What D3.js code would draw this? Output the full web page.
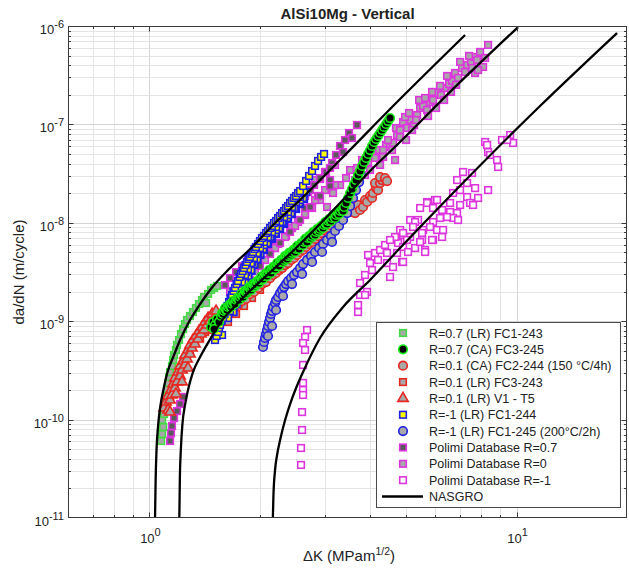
<!DOCTYPE html>
<html>
<head>
<meta charset="utf-8">
<script src="https://cdn.jsdelivr.net/npm/d3@7"></script>
<style>
  body { margin: 0; background: #fff; }
  svg { display: block; }
  text { font-family: Helvetica, Arial, "Liberation Sans", sans-serif; fill: #222; }
</style>
</head>
<body>
<svg id="chart" width="629" height="570"></svg>
<script>
// ---- Text ----
const chartTitle = "AlSi10Mg - Vertical";
const yAxisTitle = "da/dN (m/cycle)";
const xDomain = [0.6, 20];
const yDomain = [1e-11, 1e-6];
const xMajorTicks = [1, 10];
const xTickExponents = ["0", "1"];
const yMajorTicks = [1e-11, 1e-10, 1e-9, 1e-8, 1e-7, 1e-6];
const yTickExponents = ["-11", "-10", "-9", "-8", "-7", "-6"];
const legendLabels = [
  "R=0.7 (LR) FC1-243",
  "R=0.7 (CA) FC3-245",
  "R=0.1 (CA) FC2-244 (150 \u00B0C/4h)",
  "R=0.1 (LR) FC3-243",
  "R=0.1 (LR) V1 - T5",
  "R=-1 (LR) FC1-244",
  "R=-1 (LR) FC1-245 (200\u00B0C/2h)",
  "Polimi Database R=0.7",
  "Polimi Database R=0",
  "Polimi Database R=-1",
  "NASGRO"
];

// ---- Test data: [deltaK (MPa m^0.5), da/dN (m/cycle)] ----
const r07LR_FC1_243 = [
  [1.076,6.06e-11],[1.083,7.14e-11],[1.090,8.41e-11],[1.083,9.9e-11],[1.096,1.139e-10],[1.103,1.41e-10],
  [1.110,1.70e-10],[1.117,2.05e-10],[1.124,2.36e-10],[1.131,2.71e-10],[1.138,3.04e-10],[1.152,3.51e-10],
  [1.160,4.03e-10],[1.167,4.53e-10],[1.181,5.10e-10],[1.189,5.73e-10],[1.204,6.44e-10],[1.219,7.41e-10],
  [1.235,8.33e-10],[1.250,9.37e-10],[1.266,1.029e-9],[1.290,1.129e-9],[1.314,1.24e-9],[1.339,1.362e-9],
  [1.365,1.496e-9],[1.391,1.642e-9],[1.409,1.76e-9],[1.427,1.53e-9],[1.445,1.89e-9],[1.472,2.08e-9],
  [1.500,2.18e-9],[1.528,2.28e-9]
];

const r07CA_FC3_245 = [
  [1.472,8.73e-10],[1.491,9.82e-10],[1.509,9.15e-10],[1.500,8.33e-10],[1.528,1.053e-9],[1.547,9.82e-10],[1.567,1.129e-9],
  [1.577,1.211e-9],[1.587,1.183e-9],[1.597,1.270e-9],[1.607,1.362e-9],[1.617,1.300e-9],[1.627,1.300e-9],
  [1.637,1.394e-9],[1.648,1.461e-9],[1.658,1.427e-9],[1.668,1.394e-9],[1.679,1.496e-9],[1.690,1.604e-9],
  [1.700,1.531e-9],[1.711,1.496e-9],[1.722,1.642e-9],[1.733,1.721e-9],[1.743,1.681e-9],[1.754,1.642e-9],
  [1.765,1.762e-9],[1.777,1.890e-9],[1.788,1.803e-9],[1.799,1.762e-9],[1.810,1.890e-9],[1.821,2.032e-9],
  [1.833,1.985e-9],[1.844,1.934e-9],[1.856,2.032e-9],[1.868,2.224e-9],[1.879,2.180e-9],[1.891,2.08e-9],
  [1.903,2.224e-9],[1.915,2.385e-9],[1.927,2.33e-9],[1.939,2.276e-9],[1.951,2.385e-9],[1.964,2.560e-9],
  [1.976,2.560e-9],[1.988,2.442e-9],[2.001,2.62e-9],[2.014,2.815e-9],[2.026,2.682e-9],[2.039,2.682e-9],
  [2.052,2.882e-9],[2.065,3.02e-9],[2.078,2.95e-9],[2.091,2.882e-9],[2.104,3.091e-9],[2.118,3.31e-9],
  [2.131,3.159e-9],[2.144,3.091e-9],[2.158,3.388e-9],[2.172,3.55e-9],[2.185,3.469e-9],[2.199,3.388e-9],
  [2.213,3.634e-9],[2.227,3.898e-9],[2.241,3.72e-9],[2.255,3.634e-9],[2.269,3.998e-9],[2.283,4.19e-9],
  [2.298,4.093e-9],[2.312,3.998e-9],[2.327,4.19e-9],[2.341,4.601e-9],[2.356,4.495e-9],[2.371,4.289e-9],
  [2.386,4.601e-9],[2.401,4.936e-9],[2.416,4.822e-9],[2.431,4.71e-9],[2.446,4.936e-9],[2.462,5.29e-9],
  [2.477,5.29e-9],[2.493,5.048e-9],[2.509,5.415e-9],[2.524,5.813e-9],[2.540,5.543e-9],[2.556,5.415e-9],
  [2.572,5.95e-9],[2.588,6.235e-9],[2.605,6.091e-9],[2.621,5.95e-9],[2.638,6.384e-9],[2.654,6.849e-9],
  [2.671,6.535e-9],[2.688,6.384e-9],[2.705,7.011e-9],[2.722,7.346e-9],[2.739,7.176e-9],[2.756,7.011e-9],
  [2.774,7.346e-9],[2.791,8.064e-9],[2.809,7.88e-9],[2.826,7.52e-9],[2.844,8.064e-9],[2.862,8.65e-9],
  [2.880,8.45e-9],[2.898,8.255e-9],[2.916,8.65e-9],[2.934,9.28e-9],[2.953,9.28e-9],[2.971,8.855e-9],
  [2.990,9.50e-9],[3.009,1.019e-8],[3.028,9.725e-9],[3.047,9.725e-9],[3.066,1.043e-8],[3.085,1.093e-8],
  [3.105,1.068e-8],[3.124,1.043e-8],[3.144,1.119e-8],[3.164,1.200e-8],[3.184,1.172e-8],[3.204,1.119e-8],
  [3.224,1.200e-8],[3.244,1.287e-8],[3.265,1.287e-8],[3.285,1.228e-8],[3.306,1.318e-8],[3.327,1.414e-8],
  [3.348,1.381e-8],[3.369,1.318e-8],[3.390,1.448e-8],
  [3.433,1.590e-8],[3.476,1.787e-8],[3.520,2.008e-8],[3.564,2.201e-8],
  [3.609,2.477e-8],[3.655,2.72e-8],[3.701,3.06e-8],[3.748,3.36e-8],[3.795,3.78e-8],[3.843,4.151e-8],
  [3.892,4.558e-8],[3.941,5.006e-8],[3.991,5.49e-8],[4.041,6.037e-8],[4.092,6.623e-8],[4.144,7.104e-8],
  [4.196,7.62e-8],[4.249,8.174e-8],[4.303,8.77e-8],[4.357,9.41e-8],[4.412,1.009e-7],[4.468,1.082e-7],
  [4.524,1.161e-7]
];

const r01CA_FC2_244 = [
  [1.743,1.461e-9],[1.788,1.604e-9],[1.833,1.681e-9],[1.879,1.890e-9],[1.927,1.985e-9],[1.976,2.180e-9],
  [2.026,2.385e-9],[2.078,2.50e-9],[2.131,2.746e-9],[2.172,2.95e-9],[2.213,3.091e-9],[2.255,3.31e-9],
  [2.298,3.469e-9],[2.341,3.72e-9],[2.386,3.898e-9],[2.431,4.19e-9],[2.477,4.391e-9],[2.524,4.71e-9],
  [2.572,5.048e-9],[2.621,5.29e-9],[2.671,5.678e-9],[2.722,6.091e-9],[2.774,6.384e-9],[2.826,6.849e-9],
  [2.880,7.346e-9],[2.934,7.88e-9],[2.990,8.45e-9],[3.047,8.855e-9],[3.105,9.50e-9],[3.164,1.068e-8],
  [3.224,1.019e-8],[3.306,1.145e-8],[3.369,1.228e-8],[3.454,1.349e-8],[3.520,1.287e-8],[3.587,1.414e-8],
  [3.632,1.257e-8],[3.701,1.517e-8],[3.748,1.349e-8],[3.819,1.448e-8],[3.867,1.705e-8],[3.916,1.627e-8],
  [3.991,1.872e-8],[4.041,1.787e-8],[4.067,2.008e-8],[4.144,2.253e-8],[4.196,2.15e-8],[4.118,2.536e-8],
  [4.249,2.536e-8],[4.303,2.72e-8],[4.249,2.92e-8],[4.384,2.85e-8],[4.440,2.657e-8]
];

const r01LR_FC3_243 = [
  [1.374,6.749e-10],[1.418,7.768e-10],[1.463,8.14e-10],[1.500,8.94e-10],[1.538,9.82e-10],[1.577,1.029e-9],
  [1.617,1.129e-9],[1.658,1.24e-9],[1.700,1.362e-9],[1.743,1.567e-9],[1.788,1.721e-9],[1.833,1.890e-9],
  [1.879,2.08e-9],[1.927,2.276e-9],[1.976,2.50e-9],[2.026,2.746e-9],[2.078,3.02e-9],[2.131,3.31e-9],
  [1.637,9.82e-10],[1.722,1.183e-9],[1.810,1.427e-9],[1.903,1.721e-9],[2.001,2.08e-9]
];

const r01LR_V1_T5 = [
  [1.096,1.31e-10],[1.110,1.508e-10],[1.124,1.25e-10],[1.124,1.739e-10],[1.138,1.58e-10],[1.145,2.0e-10],
  [1.152,1.78e-10],[1.160,2.30e-10],[1.174,2.096e-10],[1.174,2.65e-10],[1.189,2.415e-10],[1.196,3.04e-10],
  [1.212,2.77e-10],[1.212,3.51e-10],[1.227,3.19e-10],[1.235,3.94e-10],[1.250,3.59e-10],[1.250,4.53e-10],
  [1.266,4.13e-10],[1.274,5.10e-10],[1.290,4.64e-10],[1.290,5.73e-10],[1.306,5.34e-10],[1.314,6.44e-10],
  [1.331,5.87e-10],[1.339,7.07e-10],[1.356,6.59e-10],[1.365,7.95e-10],[1.382,7.41e-10],[1.391,8.73e-10],
  [1.409,8.14e-10],[1.418,9.82e-10],[1.436,9.15e-10],[1.445,1.078e-9],[1.463,1.005e-9],[1.482,1.183e-9],
  [1.500,1.078e-9],[1.519,1.27e-9],[1.138,1.193e-10],[1.181,1.822e-10],[1.227,2.415e-10],[1.274,3.34e-10]
];

const rm1LR_FC1_244 = [
  [1.637,1.183e-9],[1.668,1.427e-9],[1.700,1.681e-9],[1.733,1.985e-9],[1.765,2.33e-9],[1.799,2.746e-9],
  [1.833,3.159e-9],[1.868,3.634e-9],[1.903,4.093e-9],[1.939,4.601e-9],[1.976,5.168e-9],[2.026,5.95e-9],
  [2.078,6.69e-9],[2.131,7.52e-9],[2.185,8.45e-9],[2.241,9.50e-9],[2.298,1.068e-8],[2.356,1.200e-8],
  [2.416,1.349e-8],[2.477,1.517e-8],[2.540,1.705e-8],[2.605,1.916e-8],
  [1.695,1.24e-9],[1.727,1.496e-9],[1.760,1.762e-9],[1.794,2.08e-9],[1.827,2.442e-9],[1.862,2.815e-9],
  [1.897,3.233e-9],[1.933,3.72e-9],[1.970,4.19e-9],[2.007,4.71e-9],[2.052,5.29e-9],[2.104,6.091e-9],
  [2.158,6.849e-9],[2.213,7.698e-9],[2.269,8.65e-9],[2.327,9.725e-9],[2.386,1.093e-8],[2.446,1.228e-8],
  [2.509,1.381e-8],[2.572,1.553e-8],[2.638,1.745e-8],
  [1.690,1.24e-9],[1.722,1.496e-9],[1.754,1.762e-9],[1.788,2.08e-9],[1.821,2.442e-9],[1.856,2.882e-9],
  [1.891,3.31e-9],[1.927,3.808e-9],[1.964,4.289e-9],[2.001,4.822e-9],[2.039,5.415e-9],[2.091,6.235e-9],
  [2.144,7.011e-9],[2.199,7.88e-9],[2.255,8.855e-9],[2.312,9.955e-9],[2.371,1.119e-8],[2.431,1.257e-8],
  [2.493,1.414e-8],[2.556,1.590e-8],[2.621,1.787e-8],
  [1.577,7.24e-10],[1.637,1.078e-9],[1.700,1.642e-9],[1.765,2.33e-9],[1.833,3.159e-9],[1.903,3.998e-9],
  [1.976,4.936e-9],[2.052,5.95e-9],[2.131,7.176e-9],[2.213,8.45e-9],[2.298,1.019e-8],[2.386,1.200e-8],
  [2.477,1.414e-8],[2.572,1.705e-8],[2.671,2.052e-8],
  [1.658,1.27e-9],[1.690,1.531e-9],[1.722,1.803e-9],[1.754,2.129e-9],[1.788,2.50e-9],[1.821,2.95e-9],
  [1.856,3.388e-9],[1.891,3.898e-9],[1.927,4.391e-9],[1.964,4.936e-9],[2.001,5.543e-9],[2.052,6.384e-9],
  [2.104,7.176e-9],[2.158,8.064e-9],[2.213,9.07e-9],[2.269,1.019e-8],[2.327,1.145e-8],[2.386,1.287e-8],
  [2.446,1.448e-8],[2.509,1.627e-8],[2.572,1.828e-8],[2.638,2.052e-8],
  [1.509,6.44e-10],[1.524,7.07e-10],[1.538,7.768e-10],[1.547,8.53e-10],[1.557,9.15e-10],[1.572,1.005e-9],
  [1.587,1.078e-9],[1.602,1.183e-9],[1.617,1.30e-9],[1.632,1.427e-9],[1.648,1.567e-9],[1.663,1.721e-9],
  [1.679,1.846e-9],[1.695,2.032e-9],[1.711,2.18e-9],[1.727,2.385e-9],[1.743,2.56e-9],[1.760,2.815e-9],
  [1.777,3.02e-9],[1.794,3.233e-9],[1.810,3.469e-9],[1.827,3.72e-9],[1.844,3.998e-9],[1.862,4.289e-9],
  [1.879,4.495e-9],[1.897,4.822e-9],[1.915,5.048e-9],[1.933,5.415e-9],[1.951,5.678e-9],[1.976,6.091e-9],
  [2.001,6.535e-9],[2.026,7.011e-9],[2.052,7.346e-9],[2.078,7.88e-9],[2.104,8.255e-9],[2.131,8.855e-9],
  [2.158,9.28e-9],[2.185,9.955e-9],[2.213,1.043e-8],[2.241,1.119e-8],[2.269,1.172e-8],[2.298,1.257e-8],
  [2.327,1.318e-8],[2.356,1.414e-8],[2.386,1.482e-8],[2.416,1.590e-8],[2.446,1.666e-8],[2.477,1.787e-8],
  [2.509,1.872e-8],[2.540,2.008e-8],[2.572,2.10e-8],
  [2.621,2.364e-8],[2.671,2.657e-8],[2.722,2.989e-8],[2.774,3.36e-8],[2.826,3.78e-8],[2.880,4.249e-8],
  [2.934,4.666e-8],[2.990,5.006e-8]
];

const rm1LR_FC1_245 = [
  [2.039,5.468e-10],[2.052,6.146e-10],[2.065,6.749e-10],[2.078,7.41e-10],[2.091,8.14e-10],[2.104,8.94e-10],
  [2.118,9.82e-10],[2.131,1.078e-9],[2.144,1.183e-9],[2.158,1.27e-9],[2.172,1.394e-9],[2.199,1.531e-9],
  [2.213,1.642e-9],[2.241,1.762e-9],[2.269,1.934e-9],[2.298,2.08e-9],[2.327,2.224e-9],[2.356,2.385e-9],
  [2.386,2.56e-9],[2.431,2.746e-9],[2.477,2.95e-9],[2.524,3.159e-9],[2.572,3.469e-9],[2.621,3.808e-9],
  [2.688,4.19e-9],[2.756,4.601e-9],[2.826,5.048e-9],[2.898,5.543e-9],[2.971,6.091e-9],[3.047,6.69e-9],
  [3.124,7.346e-9],[3.204,8.255e-9],[3.285,9.28e-9],[3.369,1.068e-8],[3.454,1.257e-8],[3.520,1.482e-8],
  [3.587,1.787e-8],[3.655,2.15e-8],[3.725,2.596e-8],[3.772,3.06e-8],
  [2.104,7.07e-10],[2.158,8.94e-10],[2.213,1.30e-9],[2.312,1.803e-9],[2.446,2.385e-9],[2.605,3.02e-9],
  [2.774,3.998e-9],[2.953,5.048e-9],[3.144,6.384e-9]
];

const polimiR07 = [
  [1.138,6.06e-11],[1.145,7.30e-11],[1.152,8.61e-11],[1.167,1.037e-10],[1.189,1.221e-10],[1.212,1.443e-10],
  [1.235,1.70e-10],[1.607,2.33e-9],[1.658,2.746e-9],[1.722,3.159e-9],[1.788,3.634e-9],[1.856,4.19e-9],
  [1.927,4.936e-9],[2.001,5.813e-9],[2.078,6.69e-9],[2.158,7.88e-9],[2.241,9.28e-9],[2.327,1.093e-8],
  [2.416,1.287e-8],[2.509,1.517e-8],[2.605,1.745e-8],[2.705,2.052e-8],[2.809,2.42e-8],[2.916,2.784e-8],
  [3.028,3.283e-8],[3.144,4.055e-8],[3.224,4.89e-8],[3.306,6.037e-8],[3.411,6.94e-8],[3.498,8.174e-8],
  [3.678,9.86e-8],[3.105,2.72e-8],[2.880,1.872e-8],[2.654,1.414e-8],[3.564,7.27e-8],[3.369,5.239e-8],
  [1.879,3.469e-9],[1.879,2.62e-9],[2.001,4.936e-9],[2.001,3.634e-9],[2.131,6.69e-9],[2.131,4.822e-9],
  [2.269,9.07e-9],[2.269,6.235e-9],[2.416,1.228e-8],[2.416,8.064e-9],[2.572,1.627e-8],[2.572,1.068e-8],
  [2.739,2.15e-8],[2.739,1.448e-8],[2.916,2.85e-8],[2.916,1.872e-8],[3.105,3.605e-8],[3.105,2.364e-8]
];

const polimiR0 = [
  [1.658,1.985e-9],[1.743,2.385e-9],[1.833,2.882e-9],[1.927,3.469e-9],[2.026,4.19e-9],[2.131,5.048e-9],
  [2.241,6.091e-9],[2.356,7.346e-9],[2.446,8.855e-9],[2.540,1.019e-8],[2.654,1.200e-8],[2.774,1.414e-8],
  [2.916,1.705e-8],[3.047,1.448e-8],[3.164,2.008e-8],[3.306,2.42e-8],[3.433,2.85e-8],[3.520,3.44e-8],
  [3.678,3.605e-8],[3.795,4.35e-8],[3.941,4.151e-8],[4.092,4.89e-8],[4.223,5.49e-8],[4.330,4.666e-8],
  [4.412,6.18e-8],[4.524,5.90e-8],[4.610,6.476e-8],[4.727,7.80e-8],[4.817,7.443e-8],[4.909,1.057e-7],
  [5.033,9.19e-8],[5.130,1.108e-7],[5.260,9.86e-8],[5.360,1.246e-7],[5.462,1.468e-7],[5.566,1.539e-7],
  [5.707,1.401e-7],[5.815,1.689e-7],[5.925,1.77e-7],[6.076,2.085e-7],[6.231,1.99e-7],[6.389,2.347e-7],
  [6.551,2.58e-7],[6.676,2.765e-7],[6.803,3.332e-7],[6.932,2.966e-7],[7.108,3.741e-7],[7.336,4.02e-7],
  [7.521,4.313e-7],[7.664,4.848e-7],[7.809,4.52e-7],[8.109,3.836e-7],[8.368,6.42e-7],[7.712,3.332e-7],
  [5.002,6.94e-8],[4.668,4.35e-8],[4.249,3.87e-8],
  [4.330,5.49e-8],[4.468,6.94e-8],[4.581,5.49e-8],[4.697,9.19e-8],[4.817,8.77e-8],[4.970,1.189e-7],
  [5.097,1.306e-7],[5.194,8.77e-8],[5.326,1.108e-7],[5.428,1.77e-7],[5.636,1.855e-7],[5.743,1.217e-7],
  [5.888,2.138e-7],[6.038,1.468e-7],[6.192,2.462e-7],[6.349,1.77e-7],[6.469,3.106e-7],[6.634,2.138e-7],
  [6.846,2.52e-7],[7.020,4.313e-7],[7.243,3.407e-7],[7.427,4.963e-7],[7.568,3.741e-7],[7.958,5.449e-7],
  [8.212,4.737e-7],[7.858,3.57e-7],[4.118,4.558e-8],[3.991,3.44e-8],[3.867,3.06e-8],[3.632,2.72e-8],
  [1.821,2.882e-9],[1.821,2.276e-9],[1.939,4.289e-9],[1.939,3.233e-9],[2.065,5.813e-9],[2.065,4.19e-9],
  [2.199,7.88e-9],[2.199,5.543e-9],[2.341,1.043e-8],[2.341,7.176e-9],[2.493,1.414e-8],[2.493,9.28e-9],
  [2.654,1.872e-8],[2.654,1.228e-8],[2.826,2.72e-8],[2.826,1.705e-8],[3.009,3.283e-8],[3.009,2.15e-8],
  [3.204,3.87e-8],[3.204,2.42e-8]
];

const polimiRm1 = [
  [2.688,8.14e-10],[2.654,6.91e-10],[2.621,6.00e-10],[2.654,5.10e-10],[2.621,3.59e-10],[2.621,2.36e-10],
  [2.621,2.0e-10],[2.621,1.78e-10],[2.605,1.193e-10],[2.605,7.84e-11],[2.588,5.145e-11],[2.588,3.46e-11],
  [3.701,1.24e-9],[3.701,1.461e-9],[3.748,1.846e-9],[3.916,1.985e-9],[3.748,2.442e-9],[3.867,2.95e-9],
  [3.991,3.898e-9],[3.941,4.71e-9],[4.118,4.936e-9],[4.249,5.29e-9],[4.196,4.19e-9],[4.440,3.898e-9],
  [4.524,2.815e-9],[4.610,3.55e-9],[4.384,5.95e-9],[4.757,6.235e-9],[4.909,7.52e-9],[5.033,7.176e-9],
  [5.531,6.69e-9],[5.636,5.29e-9],[4.878,3.998e-9],[4.668,7.176e-9],[4.440,4.936e-9],[4.041,3.31e-9],
  [3.867,1.846e-9],
  [5.707,1.627e-8],[6.000,1.705e-8],[5.462,1.414e-8],[5.130,1.068e-8],[5.394,1.068e-8],[6.309,1.145e-8],
  [4.817,8.45e-9],[5.566,8.45e-9],[5.925,6.69e-9],[5.130,7.176e-9],[4.524,6.69e-9],[4.909,5.678e-9],
  [4.727,4.936e-9],[5.293,5.543e-9],
  [8.212,6.623e-8],[8.316,6.18e-8],[8.368,5.239e-8],[8.47,4.89e-8],[8.85,4.35e-8],[8.91,3.693e-8],
  [9.13,6.94e-8],[9.61,7.80e-8],[9.79,6.476e-8],[9.43,6.94e-8],
  [7.153,3.283e-8],[7.568,3.207e-8],[6.889,2.72e-8],[7.336,2.536e-8],[7.712,2.253e-8],[8.368,2.15e-8],
  [7.020,2.15e-8],[7.336,1.828e-8],[7.858,1.787e-8],[7.474,1.590e-8],[7.616,1.517e-8],[6.718,2.008e-8],
  [6.593,1.590e-8],[7.020,1.517e-8],[6.076,1.705e-8],[5.707,1.590e-8],[5.925,1.414e-8],[6.270,1.349e-8],
  [6.593,1.287e-8],[6.889,1.257e-8],[6.718,1.119e-8],[6.932,1.068e-8],[6.469,1.145e-8],[6.192,1.119e-8],
  [5.925,1.019e-8],[5.293,1.019e-8],[5.227,9.07e-9],[5.815,9.07e-9],[6.076,8.45e-9],[6.309,8.45e-9],
  [6.270,7.176e-9],[5.531,7.88e-9],[5.888,6.69e-9],[4.909,7.88e-9],[5.033,6.69e-9],[5.462,6.384e-9],
  [5.065,5.048e-9],[5.636,5.048e-9],[4.909,3.998e-9]
];

// NASGRO model curves (one per stress ratio)
const nasgroR07 = [
  [1.0358,1e-11],[1.0397,2.43e-11],[1.0455,4.91e-11],[1.0574,9.23e-11],[1.0721,1.41e-10],[1.0911,2.0e-10],
  [1.1202,3.05e-10],[1.162,4.36e-10],[1.2117,6.44e-10],[1.2764,9.59e-10],[1.3594,1.404e-9],[1.463,2.076e-9],
  [1.6583,3.47e-9],[1.919,5.81e-9],[2.1989,9.95e-9],[2.5724,1.705e-8],[3.3064,4.35e-8],[4.817,1.81e-7],
  [7.244,8.1e-7]
];
const nasgroR01 = [
  [1.2063,1e-11],[1.2101,2.43e-11],[1.2177,4.91e-11],[1.2307,9.23e-11],[1.2503,1.41e-10],[1.2739,2.0e-10],
  [1.3148,3.05e-10],[1.3738,4.32e-10],[1.459,6.44e-10],[1.557,9.59e-10],[1.711,1.427e-9],[1.879,2.032e-9],
  [2.065,2.815e-9],[2.269,3.898e-9],[2.524,5.678e-9],[2.791,8.255e-9],[3.306,1.590e-8],[3.991,3.36e-8],
  [4.817,6.623e-8],[6.718,2.293e-7],[10.10,9.76e-7]
];
const nasgroRm1 = [
  [2.169,1e-11],[2.1762,1.634e-11],[2.1989,3.07e-11],[2.227,4.37e-11],[2.2698,6.2e-11],[2.3421,9.9e-11],
  [2.4166,1.44e-10],[2.509,2.095e-10],[2.6213,3.05e-10],[2.9161,6.75e-10],[3.3693,1.394e-9],[3.9909,2.623e-9],
  [4.817,5.54e-9],[6.593,1.873e-8],[11.59,1.538e-7],[18.79,8.49e-7]
];

// ---- Styles per series ----
const GRAY = "#a8a8a8", GREEN = "#44dc44", LIME = "#18f018", RED = "#e8261f",
      BLUE = "#1f1fe6", MAGENTA = "#dd35dd";
const series = [
  { data: r07LR_FC1_243, shape: "square",   stroke: GREEN,   fill: GRAY },
  { data: r07CA_FC3_245, shape: "circle",   stroke: LIME,    fill: "#000" },
  { data: r01CA_FC2_244, shape: "circle",   stroke: RED,     fill: GRAY },
  { data: r01LR_FC3_243, shape: "square",   stroke: RED,     fill: GRAY },
  { data: r01LR_V1_T5,   shape: "triangle", stroke: RED,     fill: GRAY },
  { data: rm1LR_FC1_244, shape: "square",   stroke: BLUE,    fill: "#ffff00" },
  { data: rm1LR_FC1_245, shape: "circle",   stroke: BLUE,    fill: GRAY },
  { data: polimiR07,     shape: "square",   stroke: MAGENTA, fill: "#5a5a5a" },
  { data: polimiR0,      shape: "square",   stroke: MAGENTA, fill: GRAY },
  { data: polimiRm1,     shape: "square",   stroke: MAGENTA, fill: "#fff" }
];
series.forEach((s, i) => s.label = legendLabels[i]);
const drawOrder = [9, 8, 7, 0, 3, 4, 2, 6, 5, 1];
const nasgroCurves = [nasgroR07, nasgroR01, nasgroRm1];

// ---- Layout ----
const svg = d3.select("#chart");
const plot = { left: 68, right: 627, top: 26, bottom: 518 };
const x = d3.scaleLog().domain(xDomain).range([plot.left, plot.right]);
const y = d3.scaleLog().domain(yDomain).range([plot.bottom, plot.top]);

svg.append("rect").attr("width", 629).attr("height", 570).attr("fill", "#fff");

svg.append("defs").append("clipPath").attr("id", "plotClip")
  .append("rect").attr("x", plot.left).attr("y", plot.top)
  .attr("width", plot.right - plot.left).attr("height", plot.bottom - plot.top);

// grid
const xTicksAll = x.ticks().filter(v => v > xDomain[0] * 1.0001 && v < xDomain[1] * 0.9999);
const yTicksAll = y.ticks().filter(v => v > yDomain[0] * 1.0001 && v < yDomain[1] * 0.9999);
const isMajor = v => Math.abs(Math.log10(v) - Math.round(Math.log10(v))) < 1e-6;

const grid = svg.append("g");
grid.selectAll("line.gx").data(xTicksAll).join("line")
  .attr("x1", d => Math.round(x(d)) + 0.5).attr("x2", d => Math.round(x(d)) + 0.5)
  .attr("y1", plot.top).attr("y2", plot.bottom)
  .attr("stroke", d => isMajor(d) ? "#d4d4d4" : "#e4e4e4").attr("stroke-width", 1);
grid.selectAll("line.gy").data(yTicksAll).join("line")
  .attr("y1", d => Math.round(y(d)) + 0.5).attr("y2", d => Math.round(y(d)) + 0.5)
  .attr("x1", plot.left).attr("x2", plot.right)
  .attr("stroke", d => isMajor(d) ? "#d4d4d4" : "#e4e4e4").attr("stroke-width", 1);

// markers
const SQ = 6.6, CR = 4.3, TRI = 46, EDGE = 1.6;
function drawMarker(sel, s) {
  if (s.shape === "square") {
    sel.append("rect").attr("x", -SQ / 2).attr("y", -SQ / 2).attr("width", SQ).attr("height", SQ)
      .attr("fill", s.fill).attr("stroke", s.stroke).attr("stroke-width", EDGE);
  } else if (s.shape === "circle") {
    sel.append("circle").attr("r", CR)
      .attr("fill", s.fill).attr("stroke", s.stroke).attr("stroke-width", EDGE);
  } else {
    sel.append("path").attr("d", d3.symbol(d3.symbolTriangle, TRI)())
      .attr("fill", s.fill).attr("stroke", s.stroke).attr("stroke-width", EDGE);
  }
}

const dataLayer = svg.append("g").attr("clip-path", "url(#plotClip)");
drawOrder.forEach(i => {
  const s = series[i];
  const g = dataLayer.append("g");
  g.selectAll("g").data(s.data).join("g")
    .attr("transform", d => `translate(${x(d[0])},${y(d[1])})`)
    .each(function () { drawMarker(d3.select(this), s); });
});

// NASGRO lines
const line = d3.line().x(d => x(d[0])).y(d => y(d[1])).curve(d3.curveMonotoneX);
dataLayer.selectAll("path.nasgro").data(nasgroCurves).join("path")
  .attr("d", line).attr("fill", "none").attr("stroke", "#000").attr("stroke-width", 2.3);

// axes box and ticks
const axisCol = "#3a3a3a";
svg.append("rect").attr("x", plot.left + 0.5).attr("y", plot.top + 0.5)
  .attr("width", plot.right - plot.left - 1).attr("height", plot.bottom - plot.top - 1)
  .attr("fill", "none").attr("stroke", axisCol).attr("stroke-width", 1);

const ticks = svg.append("g").attr("stroke", axisCol).attr("stroke-width", 1);
xTicksAll.forEach(v => {
  const len = isMajor(v) ? 5.5 : 3;
  const px = Math.round(x(v)) + 0.5;
  ticks.append("line").attr("x1", px).attr("x2", px).attr("y1", plot.bottom).attr("y2", plot.bottom - len);
  ticks.append("line").attr("x1", px).attr("x2", px).attr("y1", plot.top).attr("y2", plot.top + len);
});
yTicksAll.forEach(v => {
  const len = isMajor(v) ? 5.5 : 3;
  const py = Math.round(y(v)) + 0.5;
  ticks.append("line").attr("y1", py).attr("y2", py).attr("x1", plot.left).attr("x2", plot.left + len);
  ticks.append("line").attr("y1", py).attr("y2", py).attr("x1", plot.right).attr("x2", plot.right - len);
});

// tick labels
yMajorTicks.forEach((v, i) => {
  const t = svg.append("text").attr("x", 64).attr("y", y(v) + 8).attr("text-anchor", "end")
    .attr("font-size", 13);
  t.append("tspan").text("10");
  t.append("tspan").attr("dy", -6).attr("font-size", 11).text(yTickExponents[i]);
});
xMajorTicks.forEach((v, i) => {
  const t = svg.append("text").attr("x", x(v) + 1).attr("y", 543).attr("text-anchor", "middle")
    .attr("font-size", 13);
  t.append("tspan").text("10");
  t.append("tspan").attr("dy", -7).attr("font-size", 11).text(xTickExponents[i]);
});

// titles
svg.append("text").attr("x", (plot.left + plot.right) / 2).attr("y", 19)
  .attr("text-anchor", "middle").attr("font-size", 15).attr("font-weight", "bold").text(chartTitle);

const xl = svg.append("text").attr("x", 349).attr("y", 561).attr("text-anchor", "middle").attr("font-size", 15);
xl.append("tspan").text("\u0394K (MPam");
xl.append("tspan").attr("dy", -6).attr("font-size", 10.5).text("1/2");
xl.append("tspan").attr("dy", 6).text(")");

svg.append("text").attr("transform", `translate(24,${(plot.top + plot.bottom) / 2}) rotate(-90)`)
  .attr("text-anchor", "middle").attr("font-size", 15).text(yAxisTitle);

// legend
const lg = svg.append("g");
lg.append("rect").attr("x", 376.5).attr("y", 322.5).attr("width", 244).attr("height", 185)
  .attr("fill", "#fff").attr("stroke", "#4a4a4a").attr("stroke-width", 1);
const rowY = i => 333 + i * 16.35;
series.forEach((s, i) => {
  const g = lg.append("g").attr("transform", `translate(403,${rowY(i)})`);
  drawMarker(g, s);
  lg.append("text").attr("x", 429).attr("y", rowY(i) + 4.5).attr("font-size", 12.5).text(s.label);
});
lg.append("line").attr("x1", 382).attr("x2", 423).attr("y1", rowY(10)).attr("y2", rowY(10))
  .attr("stroke", "#000").attr("stroke-width", 2.3);
lg.append("text").attr("x", 429).attr("y", rowY(10) + 4.5).attr("font-size", 12.5).text(legendLabels[10]);
</script>
</body>
</html>
